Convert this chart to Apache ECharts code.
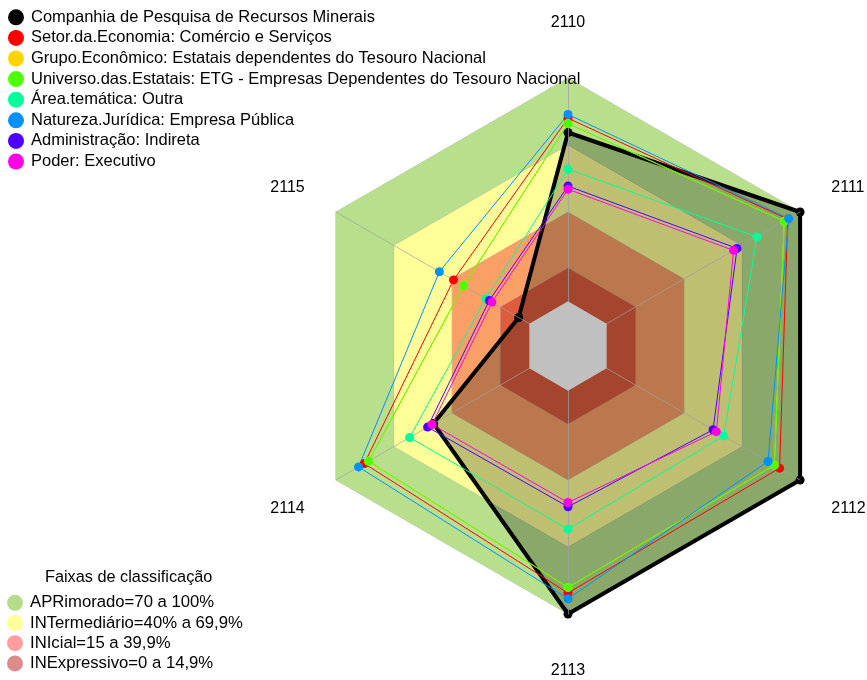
<!DOCTYPE html>
<html>
<head>
	<meta charset="utf-8">
	<title>radar</title>
	<script src="https://cdn.jsdelivr.net/npm/echarts@6/dist/echarts.min.js"></script>
	<style>
		body{margin:0;background:#fff;}
		#chart{width:867px;height:680px;}
	</style>
</head>
<body>
	<div id="chart"></div>
<script type="text/javascript">
// eixos (sentido horario a partir do topo)
var eixos = ['2110', '2111', '2112', '2113', '2114', '2115']

// valores, na ordem dos eixos
var nomes = [
    'Companhia de Pesquisa de Recursos Minerais',
    'Setor.da.Economia: Comércio e Serviços',
    'Grupo.Econômico: Estatais dependentes do Tesouro Nacional',
    'Universo.das.Estatais: ETG - Empresas Dependentes do Tesouro Nacional',
    'Área.temática: Outra',
    'Natureza.Jurídica: Empresa Pública',
    'Administração: Indireta',
    'Poder: Executivo'
]
var cores = ['#000000', '#ff0000', '#ffd500', '#4dff00', '#00ff9a', '#0091ff', '#4d00ff', '#ff00e6']
var companhia = [75.6, 100, 100, 100, 49.5, 5.5]
var setor = [82, 93.6, 89.4, 90.6, 85.3, 39.2]
var grupo = [79.6, 91.8, 86.7, 88.1, 83.1, 34.0]
var universo = [79.6, 91.8, 86.7, 88.1, 83.1, 34.0]
var area = [59.2, 77.7, 60.5, 62.0, 61.9, 22.4]
var natureza = [83.7, 94.1, 83.4, 93.2, 88.3, 46.5]
var administracao = [51.6, 67.4, 55.0, 52.0, 52.6, 20.7]
var poder = [50.2, 65.6, 56.7, 50.1, 50.3, 19.3]
var valores = [companhia, setor, grupo, universo, area, natureza, administracao, poder]

// faixas de classificacao
var faixas = ['APRimorado=70 a 100%', 'INTermediário=40% a 69,9%', 'INIcial=15 a 39,9%', 'INExpressivo=0 a 14,9%']
var limites = [100, 69.9, 39.9, 14.9]
var coresFaixa = ['#b8e08c', '#ffff99', '#faa067', '#de5c3c']
var coresLegendaFaixa = ['#b5dc8a', '#ffff9a', '#ff9e9e', '#df8a8a']

// echarts desenha no sentido anti-horario, entao inverte a ordem
function ordem(arr){
    return [arr[0]].concat(arr.slice(1).reverse())
}
function constante(v){
    return eixos.map(function(){ return v })
}

// ajuste vertical de cada rotulo de eixo
var estiloRotulo = {'2110': 'cima', '2111': 'ladoCima', '2115': 'ladoCima', '2112': 'ladoBaixo', '2114': 'ladoBaixo', '2113': 'baixo'}
function rotulo(pad){
    return {fontFamily: 'Liberation Sans', fontSize: 16, color: '#000', padding: pad}
}

var series = []
faixas.forEach(function(nome, i){
    series.push({
        name: nome, type: 'radar', z: 1, symbol: 'none', silent: true,
        lineStyle: {color: 'rgba(170,170,170,0.7)', width: 1},
        areaStyle: {color: coresFaixa[i], opacity: 1},
        itemStyle: {color: coresFaixa[i]},
        data: [{value: ordem(constante(limites[i]))}]
    })
})
// centro cinza (valor 0)
series.push({
    name: 'centro', type: 'radar', z: 3, symbol: 'none', silent: true,
    lineStyle: {width: 0},
    areaStyle: {color: '#c0c0c0', opacity: 1},
    itemStyle: {color: '#c0c0c0'},
    data: [{value: ordem(constante(0))}]
})
nomes.forEach(function(nome, i){
    var s = {
        name: nome, type: 'radar', z: 4,
        symbol: 'circle', symbolSize: 9,
        lineStyle: {color: cores[i], width: 1},
        itemStyle: {color: cores[i]},
        data: [{value: ordem(valores[i])}]
    }
    if(i === 0){
        s.z = 1
        s.lineStyle.width = 4
        s.areaStyle = {color: 'rgba(0,0,0,0.25)', opacity: 1}
    }
    series.push(s)
})

var option = {
    animation: false,
    title: {
        text: 'Faixas de classificação',
        left: 45, top: 570, padding: 0,
        textStyle: {fontFamily: 'Liberation Sans', fontSize: 16.3, fontWeight: 'normal', color: '#000'}
    },
    legend: [{
        orient: 'vertical', left: 8, top: 8.8, padding: 0,
        icon: 'circle', itemWidth: 20, itemHeight: 16, itemGap: 3.6,
        selectedMode: false,
        textStyle: {fontFamily: 'Liberation Sans', fontSize: 16.5, color: '#000', lineHeight: 16},
        data: nomes
    }, {
        orient: 'vertical', left: 7, top: 594.3, padding: 0,
        icon: 'circle', itemWidth: 20, itemHeight: 16, itemGap: 3.2,
        selectedMode: false,
        textStyle: {fontFamily: 'Liberation Sans', fontSize: 16.7, color: '#000', lineHeight: 16},
        data: faixas.map(function(n, i){ return {name: n, itemStyle: {color: coresLegendaFaixa[i]}} })
    }],
    radar: {
        z: 2,
        center: [568, 346],
        radius: 268,
        startAngle: 90,
        shape: 'polygon',
        nameGap: 36,
        axisName: {
            color: '#000', fontFamily: 'Liberation Sans', fontSize: 16,
            formatter: function(n){
                return '{' + estiloRotulo[n] + '|' + n + '}'
            },
            rich: {
                cima: rotulo([0, 0, 11, 0]),
                ladoCima: rotulo([0, 0, 12, 0]),
                ladoBaixo: rotulo([22, 0, 0, 0]),
                baixo: rotulo([13, 0, 0, 0])
            }
        },
        splitNumber: 6,
        splitLine: {show: false},
        splitArea: {show: false},
        axisLine: {lineStyle: {color: 'rgba(160,160,160,0.7)', width: 1}},
        indicator: ordem(eixos).map(function(e){ return {name: e, min: -20, max: 100} })
    },
    series: series
};

var myChart = echarts.init(document.getElementById('chart'));
myChart.setOption(option);
</script>
</body>
</html>
